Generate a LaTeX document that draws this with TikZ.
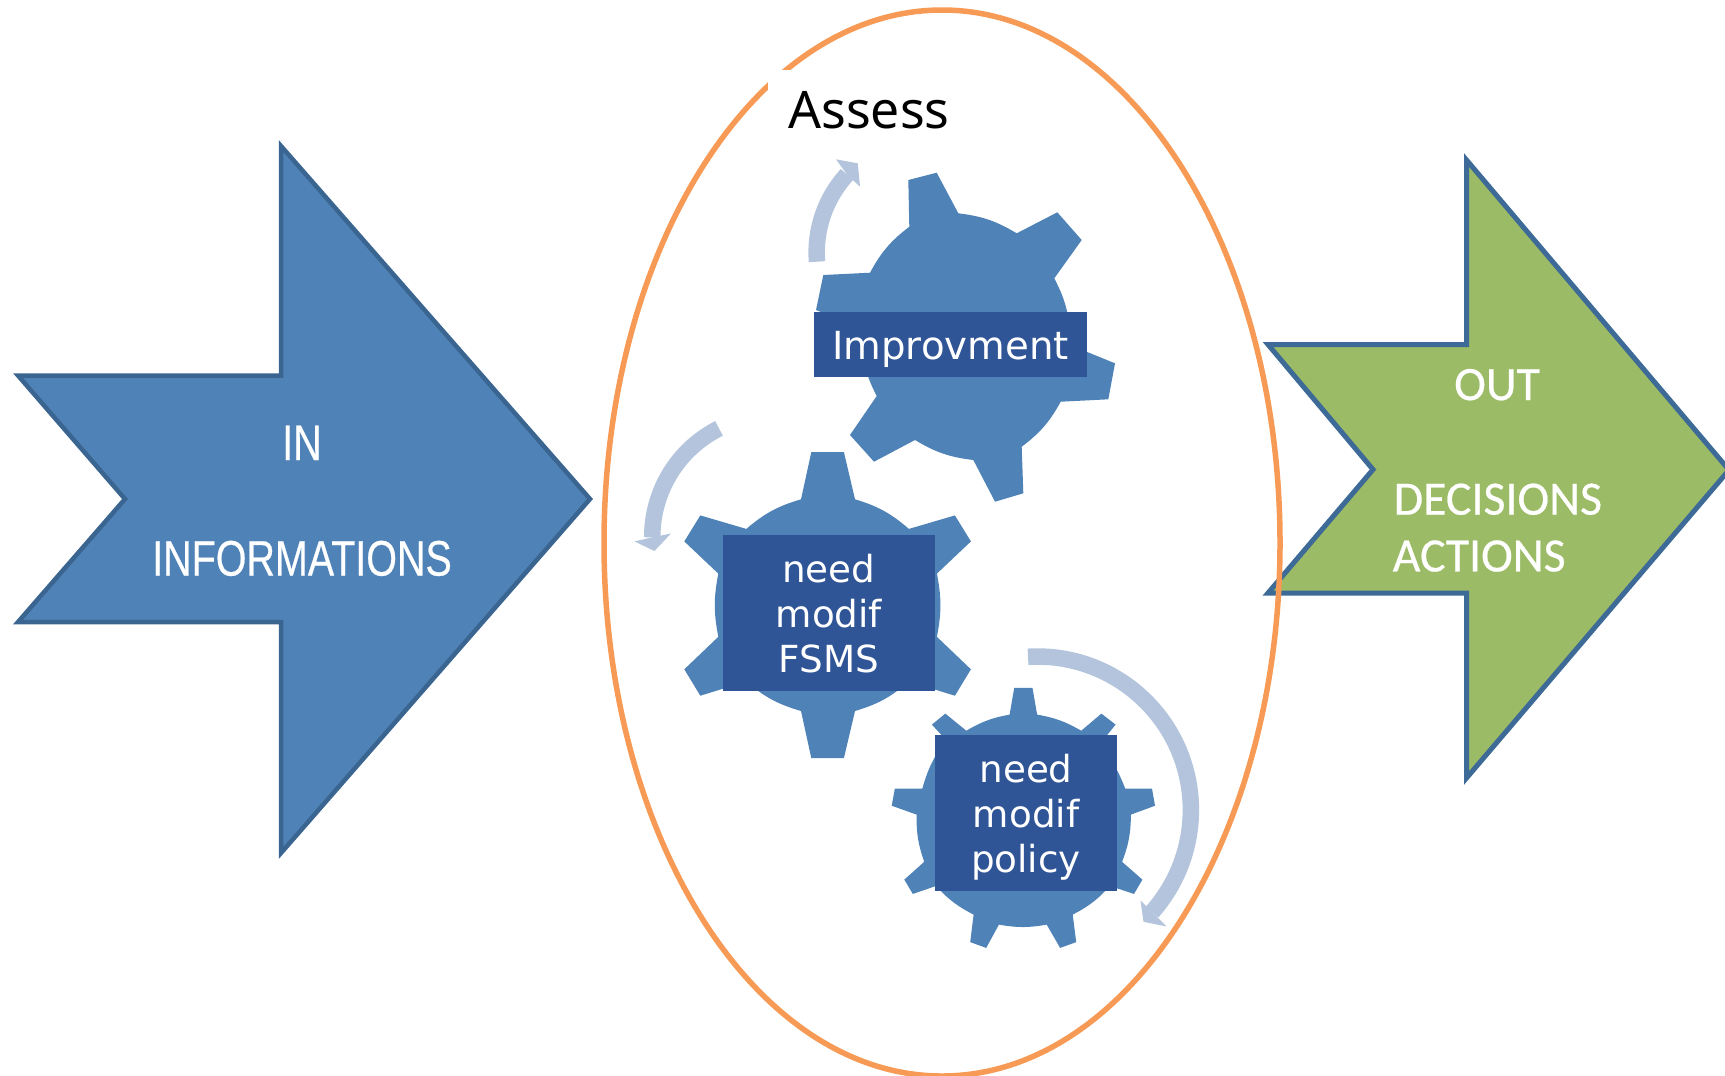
\documentclass[tikz,border=0pt]{standalone}
\usepackage{fontspec}
\setmainfont{DejaVu Sans}
\newfontfamily\infont[FakeBold=0.5]{Liberation Sans}
\newfontfamily\outfont[FakeBold=0.5]{Carlito}
\newfontfamily\assessfont{Noto Sans}
\definecolor{gearblue}{HTML}{4F82B7}
\definecolor{boxblue}{HTML}{305597}
\definecolor{turnblue}{HTML}{B3C4DC}
\definecolor{inedge}{HTML}{3B6591}
\definecolor{outgreen}{HTML}{9BBB66}
\definecolor{outedge}{HTML}{3D6A96}
\definecolor{ringorange}{HTML}{F79A55}
\tikzset{
	gear/.style={fill=gearblue},
	turnband/.style={draw=turnblue, line width=0.165cm},
	turnhead/.style={fill=turnblue},
	labelbox/.style={fill=boxblue, text=white, align=center, inner sep=0pt, text depth=0pt, font=\fontsize{10.6}{12.8}\selectfont},
	inlabel/.style={text=white, anchor=base, inner sep=0pt, xscale=0.79, transform shape, font=\infont\fontsize{14.2}{17}\selectfont},
	outlabel/.style={text=white, inner sep=0pt, font=\outfont\fontsize{13.6}{16}\selectfont}
}

\begin{document}
\begin{tikzpicture}[x=0.01cm, y=-0.01cm]
	\useasboundingbox (0,0) rectangle (1725,1075);

	\draw[line width=0.045cm, draw=inedge, fill=gearblue, miter limit=10] (18,375.5) -- (281,375.5) -- (281,146) -- (590,499) -- (281,853) -- (281,622) -- (18,622) -- (125,499) -- cycle;
	\draw[line width=0.05cm, draw=outedge, fill=outgreen] (1268,344.5) -- (1466.5,344.5) -- (1466.5,160) -- (1729,470) -- (1466.5,778) -- (1466.5,593) -- (1268,593) -- (1373,469.5) -- cycle;

	\node[inlabel] (inword) at (302,460) {IN};
	\node[inlabel] (infoword) at (302,575.6) {INFORMATIONS};
	\node[outlabel, anchor=base] (outword) at (1497,400) {OUT};
	\node[outlabel, anchor=base west] (decword) at (1393,514.6) {DECISIONS};
	\node[outlabel, anchor=base west] (actword) at (1392,571.4) {ACTIONS};

	\draw[line width=0.055cm, draw=ringorange] (942,543) ellipse [x radius=338, y radius=533];
	\node[fill=white, anchor=north west, inner xsep=0.2cm, inner ysep=4pt, text height=12.6pt, text depth=0pt, font=\assessfont\fontsize{14.7}{17}\selectfont] (assess) at (767.7,69.3) {Assess};

	\fill[gear] (908.3,180) -- (936.7,172.7) -- (958.3,213.3) to[bend left=12] (1016.7,233.3) -- (1057.3,212.3) -- (1081.7,240) -- (1054.3,278.3) to[bend left=14] (1070,345) -- (1115,363.3) -- (1108.3,399.3) -- (1060.7,401.7) to[bend left=12] (1021.7,446.7) -- (1023.3,493.3) -- (995,501.7) -- (973.3,460) to[bend left=12] (915,440) -- (874,461.7) -- (850,435) -- (876.7,396) to[bend left=14] (861,328.4) -- (816,310) -- (823.3,275) -- (870,272.7) to[bend left=12] (909.3,226.7) -- cycle;
	\fill[gear] (801,499.3) -- (811.3,452.1) -- (843.9,452.1) -- (855,499.3) to[bend left=12] (908.9,528.9) -- (954.9,515.4) -- (970.9,541.4) -- (936.9,573.6) to[bend left=11] (936.9,636.8) -- (970.9,669.3) -- (954.9,695.7) -- (908.9,681.5) to[bend left=12] (855,711) -- (843.9,758.2) -- (811.3,758.2) -- (801,711) to[bend left=12] (746.3,681.5) -- (700.3,695.7) -- (684.3,669.3) -- (718.3,636.8) to[bend left=11] (718.3,573.6) -- (684.3,541.4) -- (700.3,515.4) -- (746.3,528.9) to[bend left=12] cycle;
	\fill[gear] (1009.6,714.6) -- (1014.2,687.9) -- (1032.5,687.9) -- (1037.1,714.6) to[bend left=10] (1081.2,730.7) -- (1101.4,713.6) -- (1115.6,724.6) -- (1099,745) to[bend left=10] (1125.2,788.6) -- (1152,788.6) -- (1155,805.7) -- (1130.9,814.6) to[bend left=10] (1122.1,861.8) -- (1142.4,879.6) -- (1134,893.9) -- (1109.9,886) to[bend left=10] (1072.7,914.6) -- (1076.2,942.1) -- (1060.1,947.9) -- (1046.7,924.6) to[bend left=10] (998.9,924.6) -- (986.2,947.9) -- (970.2,942.1) -- (973.6,914.6) to[bend left=10] (936,886) -- (912.8,893.9) -- (904.3,879.6) -- (924.2,861.8) to[bend left=10] (916.6,814.6) -- (891.7,805.7) -- (894.8,788.6) -- (922.3,788.6) to[bend left=10] (946,740) -- (931.9,724.6) -- (945.3,713.6) -- (966.3,730.7) to[bend left=10] cycle;

	\draw[turnband] (817,261.7) arc [start angle=175.4, end angle=222.5, radius=115.4];
	\fill[turnhead] (836,159.3) -- (857.7,163.3) -- (860,186.7) -- (847,174.5) -- cycle;
	\draw[turnband] (719,428.4) arc [start angle=-116.7, end angle=-180.3, radius=121.2];
	\fill[turnhead] (634.5,541.4) -- (654.4,551) -- (670.9,533.6) -- (652.3,537.3) -- cycle;
	\draw[turnband] (1028,656.8) arc [start angle=-93.5, end angle=41.7, radius=153.5];
	\fill[turnhead] (1166.5,926.4) -- (1143.5,921.8) -- (1140.5,900.4) -- (1152,912) -- cycle;

	\node[labelbox, minimum width=2.73cm, minimum height=0.65cm, text height=8.6pt, font=\fontsize{11}{13}\selectfont] (improve) at (950.5,344.2) {Improvment};
	\node[labelbox, minimum width=2.12cm, minimum height=1.563cm] (fsms) at (828.9,612.9) {need\\modif\\FSMS};
	\node[labelbox, minimum width=1.82cm, minimum height=1.557cm] (policy) at (1026,812.9) {need\\modif\\policy};
\end{tikzpicture}
\end{document}
